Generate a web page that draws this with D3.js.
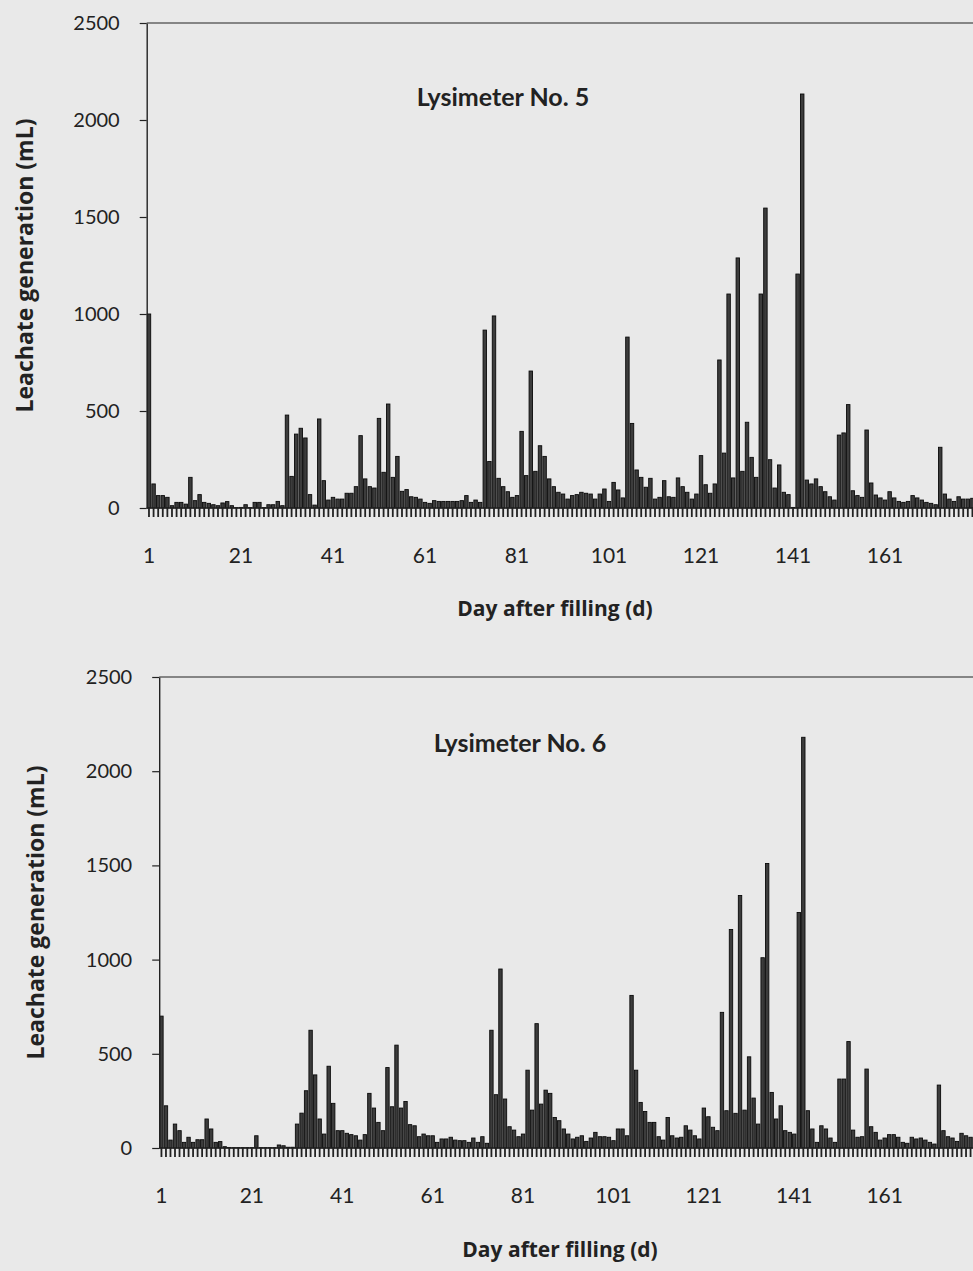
<!DOCTYPE html>
<html>
<head>
<meta charset="utf-8">
<script src="https://cdn.jsdelivr.net/npm/d3@7"></script>
<style>
  body { margin: 0; background: #e9e9e9; }
  svg { display: block; font-family: Lato, "Open Sans", sans-serif; }
</style>
</head>
<body>
<div id="chart"></div>
<script>
// daily leachate volume (mL)
var days = d3.range(1, 181)
var xTickLabels = [1, 21, 41, 61, 81, 101, 121, 141, 161]
var yTickLabels = [0, 500, 1000, 1500, 2000, 2500]

var lys5 = [
  1000, 124, 64, 64, 55, 12, 29, 29, 20, 158,
  38, 69, 29, 24, 17, 12, 26, 33, 12, 2,
  3, 17, 2, 29, 29, 2, 17, 17, 34, 12,
  479, 163, 381, 411, 361, 69, 15, 459, 141, 41,
  55, 46, 46, 76, 76, 110, 373, 150, 110, 103,
  462, 184, 536, 158, 266, 86, 95, 58, 55, 46,
  29, 24, 38, 34, 34, 34, 34, 34, 38, 64,
  29, 41, 29, 917, 240, 990, 153, 110, 84, 55,
  64, 395, 167, 706, 189, 321, 266, 150, 110, 81,
  72, 46, 64, 69, 81, 76, 72, 46, 72, 98,
  34, 132, 93, 52, 881, 436, 196, 158, 107, 153,
  46, 55, 141, 58, 55, 155, 110, 81, 46, 72,
  270, 120, 76, 124, 763, 283, 1103, 155, 1289, 189,
  442, 261, 158, 1103, 1546, 249, 103, 222, 81, 69,
  3, 1206, 2134, 144, 124, 150, 110, 84, 58, 41,
  376, 387, 533, 89, 64, 55, 402, 129, 67, 52,
  41, 84, 52, 34, 29, 34, 64, 52, 41, 29,
  24, 17, 313, 72, 46, 34, 58, 46, 46, 50
]

var lys6 = [
  700, 224, 42, 127, 92, 30, 57, 30, 44, 44,
  154, 101, 30, 34, 7, 3, 2, 2, 2, 2,
  2, 65, 2, 2, 2, 2, 16, 12, 4, 4,
  127, 185, 304, 625, 388, 154, 74, 434, 237, 92,
  92, 78, 71, 65, 42, 71, 290, 212, 136, 92,
  427, 219, 546, 212, 247, 124, 118, 60, 74, 65,
  65, 30, 48, 48, 57, 42, 39, 39, 30, 53,
  30, 60, 25, 625, 283, 950, 260, 113, 95, 60,
  74, 413, 201, 660, 233, 307, 290, 162, 145, 101,
  74, 48, 57, 65, 35, 53, 83, 60, 60, 57,
  39, 101, 101, 65, 810, 413, 242, 194, 136, 136,
  60, 42, 162, 65, 53, 57, 118, 95, 65, 48,
  212, 166, 110, 92, 720, 198, 1160, 184, 1340, 201,
  484, 265, 127, 1010, 1510, 295, 154, 224, 92, 83,
  74, 1250, 2180, 198, 101, 30, 118, 101, 53, 30,
  366, 366, 565, 95, 57, 60, 419, 113, 83, 42,
  53, 71, 71, 57, 30, 25, 57, 48, 53, 42,
  30, 21, 334, 92, 60, 53, 35, 78, 65, 57
]

var svg = d3.select("#chart").append("svg").attr("width", 973).attr("height", 1271)

// panel placement
var panels = [
  {values: lys5, title: "Lysimeter No. 5", left: 146.7, right: 974.7, top: 23, bottom: 508,
   titleX: 503, titleY: 100, yTitleX: 27, xTitleX: 555, xTitleY: 610},
  {values: lys6, title: "Lysimeter No. 6", left: 159.2, right: 972.8, top: 677, bottom: 1148,
   titleX: 520, titleY: 746, yTitleX: 38, xTitleX: 560, xTitleY: 1251}
]

panels.forEach(drawPanel)

function drawPanel(p) {
  var x = d3.scaleBand().domain(days).range([p.left, p.right]).paddingInner(0.25).paddingOuter(0.12)
  var y = d3.scaleLinear().domain([0, 2500]).range([p.bottom, p.top])

  var g = svg.append("g")

  // top frame line
  g.append("line").attr("x1", p.left).attr("x2", 973).attr("y1", p.top).attr("y2", p.top)
    .attr("stroke", "#222").attr("stroke-width", 1.2)

  g.selectAll("rect.bar").data(p.values).enter().append("rect")
    .attr("class", "bar")
    .attr("x", (d, i) => x(days[i]))
    .attr("y", d => y(d))
    .attr("width", x.bandwidth())
    .attr("height", d => p.bottom - y(d))
    .attr("fill", "#3c3c3c")
    .attr("stroke", "#0a0a0a")
    .attr("stroke-width", 0.9)

  var yAxis = g.append("g").attr("transform", "translate(" + p.left + ",0)")
    .call(d3.axisLeft(y).tickValues(yTickLabels).tickFormat(d3.format("d"))
      .tickSize(7).tickSizeOuter(0).tickPadding(20))
  yAxis.select(".domain").attr("stroke", "#222").attr("stroke-width", 1.4)
  yAxis.selectAll(".tick line").attr("stroke", "#222").attr("stroke-width", 1.2)
  yAxis.selectAll("text").attr("font-size", 20).attr("fill", "#222").attr("font-family", "Lato, sans-serif")

  var xAxis = g.append("g").attr("transform", "translate(0," + p.bottom + ")")
    .call(d3.axisBottom(x).tickSize(9).tickSizeOuter(0).tickPadding(31)
      .tickFormat(d => xTickLabels.includes(d) ? d : ""))
  xAxis.select(".domain").attr("stroke", "#222").attr("stroke-width", 1.4)
    .attr("d", "M" + p.left + ",0H973")
  xAxis.selectAll(".tick line").attr("stroke", "#222").attr("stroke-width", 1.8)
  xAxis.selectAll("text").attr("font-size", 21).attr("fill", "#222").attr("font-family", "Lato, sans-serif")

  g.append("text").attr("x", p.titleX).attr("y", p.titleY).attr("text-anchor", "middle")
    .attr("dominant-baseline", "middle").attr("font-size", 25).attr("font-weight", "bold")
    .attr("fill", "#222").text(p.title)

  g.append("text").attr("transform", "translate(" + p.yTitleX + "," + ((p.top + p.bottom) / 2) + ") rotate(-90)")
    .attr("text-anchor", "middle").attr("dominant-baseline", "middle")
    .attr("font-family", "'Open Sans', sans-serif")
    .attr("font-size", 23).attr("font-weight", "bold").attr("fill", "#222")
    .text("Leachate generation (mL)")

  g.append("text").attr("x", p.xTitleX).attr("y", p.xTitleY).attr("text-anchor", "middle")
    .attr("dominant-baseline", "middle").attr("font-family", "'Open Sans', sans-serif")
    .attr("font-size", 21).attr("font-weight", "bold")
    .attr("fill", "#222").text("Day after filling (d)")
}
</script>
</body>
</html>
